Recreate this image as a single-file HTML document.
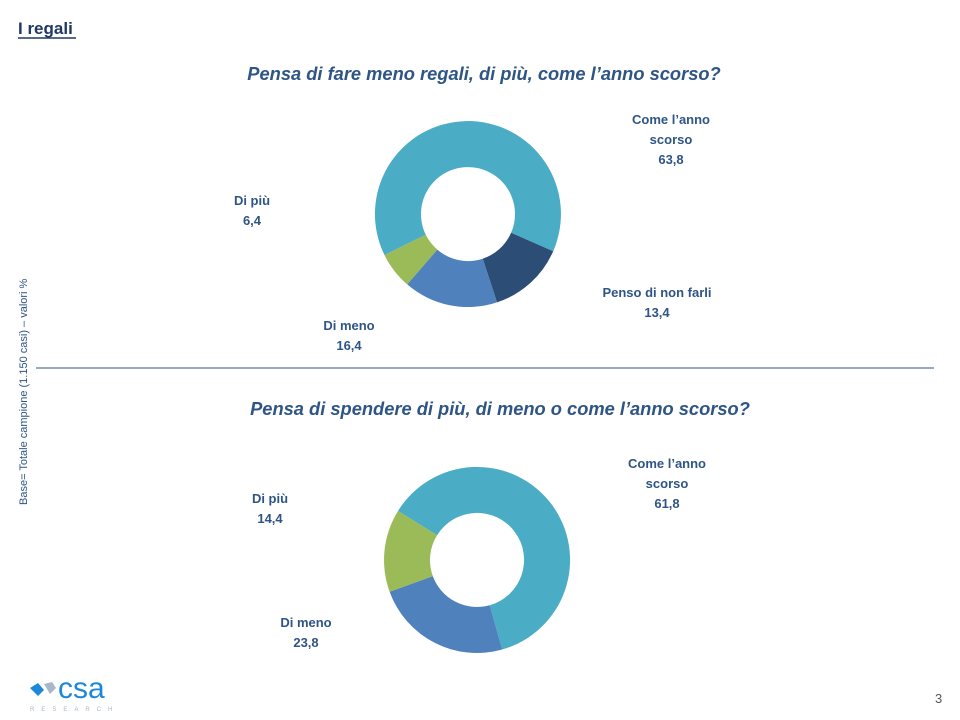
<!DOCTYPE html>
<html><head><meta charset="utf-8"><style>
body{margin:0;background:#fff;}
svg{display:block;font-family:"Liberation Sans",sans-serif;}
.l{fill:#2E5585;font-weight:bold;font-size:13px;text-anchor:middle;}
.t{fill:#2E5585;font-weight:bold;font-style:italic;font-size:18.3px;text-anchor:middle;}
</style></head><body>
<svg width="960" height="720" viewBox="0 0 960 720">
<text x="18" y="34" font-size="17" font-weight="bold" fill="#1F3864">I regali</text>
<line x1="18" y1="38" x2="76" y2="38" stroke="#1F3864" stroke-width="1.5"/>
<text class="t" x="484" y="80">Pensa di fare meno regali, di più, come l’anno scorso?</text>
<text class="t" x="500" y="415">Pensa di spendere  di più, di meno o come l’anno scorso?</text>
<line x1="36" y1="368" x2="934" y2="368" stroke="#2E5585" stroke-width="1"/>
<text transform="translate(27,505) rotate(-90)" font-size="11" fill="#2E5585">Base= Totale campione (1.150 casi) – valori %</text>
<path fill="#4BACC6" d="M384.5,255.1 A93,93 0 1 1 553.2,251.2 L511.1,232.8 A47,47 0 1 0 425.8,234.8 Z"/>
<path fill="#2C4D75" d="M553.2,251.2 A93,93 0 0 1 497.0,302.4 L482.7,258.7 A47,47 0 0 0 511.1,232.8 Z"/>
<path fill="#4F81BD" d="M497.0,302.4 A93,93 0 0 1 407.2,284.4 L437.3,249.6 A47,47 0 0 0 482.7,258.7 Z"/>
<path fill="#9BBB59" d="M407.2,284.4 A93,93 0 0 1 384.5,255.1 L425.8,234.8 A47,47 0 0 0 437.3,249.6 Z"/>
<path fill="#4BACC6" d="M398.0,511.0 A93,93 0 1 1 502.2,649.5 L489.7,605.2 A47,47 0 1 0 437.1,535.2 Z"/>
<path fill="#4F81BD" d="M502.2,649.5 A93,93 0 0 1 389.6,591.8 L432.8,576.1 A47,47 0 0 0 489.7,605.2 Z"/>
<path fill="#9BBB59" d="M389.6,591.8 A93,93 0 0 1 398.0,511.0 L437.1,535.2 A47,47 0 0 0 432.8,576.1 Z"/>
<g class="l">
<text x="671" y="124">Come l’anno</text><text x="671" y="144">scorso</text><text x="671" y="164">63,8</text>
<text x="252" y="205">Di più</text><text x="252" y="225">6,4</text>
<text x="657" y="297">Penso di non farli</text><text x="657" y="317">13,4</text>
<text x="349" y="330">Di meno</text><text x="349" y="350">16,4</text>
<text x="667" y="468">Come l’anno</text><text x="667" y="488">scorso</text><text x="667" y="508">61,8</text>
<text x="270" y="503">Di più</text><text x="270" y="523">14,4</text>
<text x="306" y="627">Di meno</text><text x="306" y="647">23,8</text>
</g>
<path d="M30,688 L38,683 L44,690 L38,696 Z" fill="#1E88D8"/>
<path d="M44,684 L52,682 L56,688 L50,694 Z" fill="#A9B7C6"/>
<text x="58" y="698" font-size="30" fill="#1E88D8">csa</text>
<text x="30" y="711" font-size="6" fill="#A9B7C6" letter-spacing="7">RESEARCH</text>
<text x="935" y="703" font-size="13" fill="#555">3</text>
</svg>
</body></html>
